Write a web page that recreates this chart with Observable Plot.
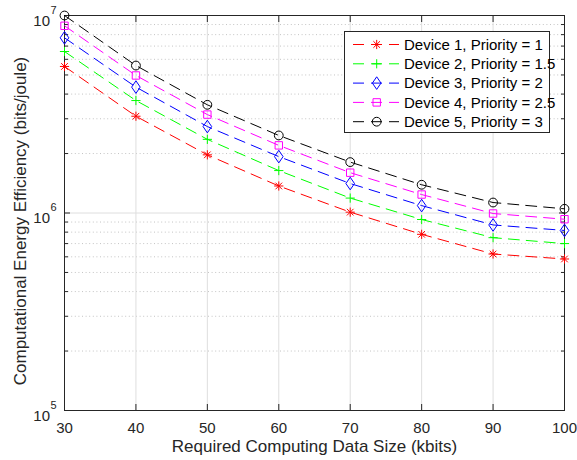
<!DOCTYPE html>
<html>
<head>
<meta charset="utf-8">
<script src="https://cdn.jsdelivr.net/npm/d3@7"></script>
<script src="https://cdn.jsdelivr.net/npm/@observablehq/plot@0.6"></script>
<style>
  html, body { margin: 0; padding: 0; background: #fff; }
  #chart { width: 577px; height: 460px; }
</style>
</head>
<body>
<div id="chart"></div>
<script>
// ---- data ----
const sizes = [30, 40, 50, 60, 70, 80, 90, 100];
const device1 = [5.52e6, 3.09e6, 1.97e6, 1.37e6, 1.01e6, 7.8e5, 6.2e5, 5.85e5];
const device2 = [6.57e6, 3.71e6, 2.36e6, 1.64e6, 1.19e6, 9.27e5, 7.5e5, 7.0e5];
const device3 = [7.71e6, 4.34e6, 2.74e6, 1.93e6, 1.41e6, 1.09e6, 8.7e5, 8.16e5];
const device4 = [8.87e6, 4.97e6, 3.15e6, 2.20e6, 1.60e6, 1.24e6, 9.94e5, 9.3e5];
const device5 = [1.0e7, 5.58e6, 3.53e6, 2.47e6, 1.81e6, 1.39e6, 1.13e6, 1.05e6];
const seriesNames = ["Device 1, Priority = 1", "Device 2, Priority = 1.5", "Device 3, Priority = 2", "Device 4, Priority = 2.5", "Device 5, Priority = 3"];
const seriesColors = ["#ff0000", "#00ff00", "#0000ff", "#ff00ff", "#000000"];
const xTicks = [30, 40, 50, 60, 70, 80, 90, 100];
const xGrid = [40, 50, 60, 70, 80, 90];
const yMajor = [1e5, 1e6, 1e7];
const yMinor = [2e5, 3e5, 4e5, 5e5, 6e5, 7e5, 8e5, 9e5, 2e6, 3e6, 4e6, 5e6, 6e6, 7e6, 8e6, 9e6];
const xTitle = "Required Computing Data Size (kbits)";
const yTitle = "Computational Energy Efficiency (bits/joule)";

// ---- marker shapes ----
const shapes = [
  {draw(c) { const r = 4.6, d = r * 0.72; c.moveTo(-r, 0); c.lineTo(r, 0); c.moveTo(0, -r); c.lineTo(0, r); c.moveTo(-d, -d); c.lineTo(d, d); c.moveTo(-d, d); c.lineTo(d, -d); }},
  {draw(c) { const r = 4.6; c.moveTo(-r, 0); c.lineTo(r, 0); c.moveTo(0, -r); c.lineTo(0, r); }},
  {draw(c) { const w = 4.3, h = 6.3; c.moveTo(0, -h); c.lineTo(w, 0); c.lineTo(0, h); c.lineTo(-w, 0); c.closePath(); }},
  {draw(c) { const s = 3.7; c.moveTo(-s, -s); c.lineTo(s, -s); c.lineTo(s, s); c.lineTo(-s, s); c.closePath(); }},
  {draw(c) { const r = 4.4; c.moveTo(r, 0); c.arc(0, 0, r, 0, 2 * Math.PI); c.closePath(); }}
];

const allSeries = [device1, device2, device3, device4, device5];
const seriesRows = allSeries.map((vals) => sizes.map((x, i) => ({x, y: vals[i]})));

const DASH = "11,7";
const font = "'Liberation Sans', Arial, Helvetica, sans-serif";

const marks = [
  // grid
  Plot.ruleY(yMinor, {y: d => d, stroke: "#c4c4c4", strokeDasharray: "1,2.6", strokeWidth: 1}),
  Plot.ruleX(xGrid, {x: d => d, stroke: "#dedede", strokeWidth: 1}),
  Plot.ruleY([1e6], {y: d => d, stroke: "#dedede", strokeWidth: 1}),
  // frame + ticks
  Plot.frame({stroke: "#262626", strokeWidth: 1}),
  Plot.axisX(xTicks, {anchor: "bottom", tickSize: -6, tickFormat: () => "", label: null, stroke: "#262626"}),
  Plot.axisX(xTicks, {anchor: "top", tickSize: -6, tickFormat: () => "", label: null, stroke: "#262626"}),
  Plot.axisY(yMajor, {anchor: "left", tickSize: -6, tickFormat: () => "", label: null, stroke: "#262626"}),
  Plot.axisY(yMajor, {anchor: "right", tickSize: -6, tickFormat: () => "", label: null, stroke: "#262626"}),
  Plot.axisY(yMinor, {anchor: "left", tickSize: -4, tickFormat: () => "", label: null, stroke: "#262626"}),
  Plot.axisY(yMinor, {anchor: "right", tickSize: -4, tickFormat: () => "", label: null, stroke: "#262626"}),
  // tick labels
  Plot.axisX(xTicks, {anchor: "bottom", tickSize: 0, tickPadding: 12, fontSize: 15, label: null, fill: "#262626"}),
  Plot.text(yMajor, {y: d => d, frameAnchor: "left", text: () => "10", textAnchor: "end", lineAnchor: "bottom", dx: -14.5, dy: 10, fontSize: 15, fill: "#262626"}),
  Plot.text(yMajor, {y: d => d, frameAnchor: "left", text: d => String(Math.round(Math.log10(d))), textAnchor: "start", lineAnchor: "bottom", dx: -14, dy: -2, fontSize: 11, fill: "#262626"}),
  // titles
  Plot.text([xTitle], {frameAnchor: "bottom", text: d => d, textAnchor: "middle", lineAnchor: "bottom", dy: 41, fontSize: 17, fill: "#262626"}),
  Plot.text([yTitle], {frameAnchor: "left", text: d => d, rotate: -90, textAnchor: "middle", lineAnchor: "bottom", dx: -39, dy: 8, fontSize: 17, fill: "#262626"})
];

seriesRows.forEach((rows, k) => {
  marks.push(Plot.line(rows, {x: "x", y: "y", stroke: seriesColors[k], strokeWidth: 1, strokeDasharray: DASH}));
});
seriesRows.forEach((rows, k) => {
  marks.push(Plot.dot(rows, {x: "x", y: "y", symbol: shapes[k], stroke: seriesColors[k], fill: "none", strokeWidth: 1}));
});

const svg = Plot.plot({
  width: 577,
  height: 460,
  marginLeft: 64,
  marginRight: 13,
  marginTop: 15,
  marginBottom: 50,
  style: {fontFamily: font, background: "#fff", overflow: "visible"},
  x: {type: "linear", domain: [30, 100], label: null},
  y: {type: "log", domain: [1e5, 1e7], label: null},
  marks
});

// ---- legend ----
const g = d3.select(svg).append("g").attr("class", "legend");
const lx = 344, ly = 31, lw = 205, lh = 101;
g.append("rect").attr("x", lx + 0.5).attr("y", ly + 0.5).attr("width", lw).attr("height", lh)
  .attr("fill", "#fff").attr("stroke", "#262626").attr("stroke-width", 1);
seriesNames.forEach((name, k) => {
  const cy = 44.5 + k * 19.3;
  g.append("line").attr("x1", 353).attr("x2", 399).attr("y1", cy).attr("y2", cy)
    .attr("stroke", seriesColors[k]).attr("stroke-width", 1).attr("stroke-dasharray", DASH);
  const p = d3.path();
  shapes[k].draw(p);
  g.append("path").attr("d", p.toString()).attr("transform", `translate(376.7,${cy})`)
    .attr("fill", "none").attr("stroke", seriesColors[k]).attr("stroke-width", 1);
  g.append("text").attr("x", 404).attr("y", cy + 5.3).attr("font-size", 15).attr("font-family", font)
    .attr("text-anchor", "start").attr("fill", "#000").text(name);
});

document.getElementById("chart").appendChild(svg);
</script>
</body>
</html>
